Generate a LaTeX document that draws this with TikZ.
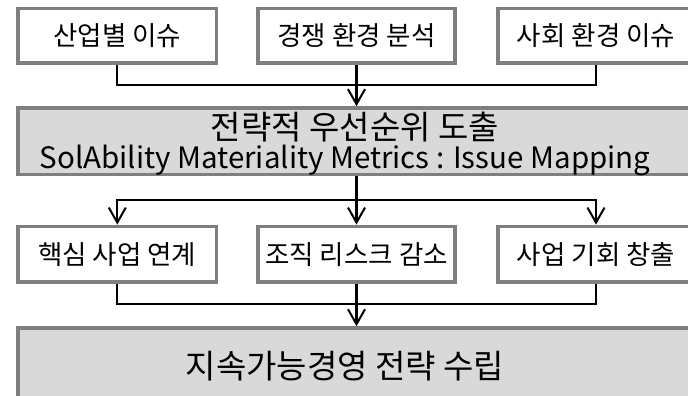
\documentclass[tikz,border=0pt]{standalone}
\usepackage{fontspec}
\setmainfont{Noto Sans CJK KR}
\usetikzlibrary{arrows.meta}
\definecolor{bordergray}{HTML}{7F7F7F}
\definecolor{boxfill}{HTML}{D9D9D9}
\begin{document}
\begin{tikzpicture}[x=1pt,y=-1pt,
  box/.style={draw=bordergray,line width=3.5pt,fill=white,rectangle,inner sep=0pt},
  wide/.style={draw=bordergray,line width=3.5pt,fill=boxfill,rectangle,inner sep=0pt},
  smalltxt/.style={font=\fontsize{26.5}{30}\selectfont},
  bigtxt/.style={inner sep=0pt},
  conn/.style={line width=2.3pt,black},
  arr/.style={conn,-{Straight Barb[length=15pt,width=17pt,line width=2pt]}}]
\useasboundingbox (0,0) rectangle (688,396);
\clip (0,0) rectangle (688,396);
% top boxes
\node[box,smalltxt,minimum width=198.5pt,minimum height=54.7pt] (t1) at (117.3,35.7) {산업별 이슈};
\node[box,smalltxt,minimum width=197pt,minimum height=54.7pt] (t2) at (356.5,35.7) {경쟁 환경 분석};
\node[box,smalltxt,minimum width=196pt,minimum height=54.7pt] (t3) at (596,35.7) {사회 환경 이슈};
% middle wide box
\node[wide,minimum width=682pt,minimum height=66.7pt] (m) at (359,141.3) {};
\node[bigtxt,font=\fontsize{33}{36}\selectfont,anchor=base,text height=25pt,text depth=1pt] (mk) at (355,139.5) {전략적 우선순위 도출};
\node[bigtxt,font=\fontsize{29.5}{32}\selectfont,anchor=base,text height=21pt,text depth=6pt] (ml) at (345,168) {SolAbility Materiality Metrics : Issue Mapping};
% lower boxes
\node[box,smalltxt,minimum width=198.5pt,minimum height=55.7pt] (b1) at (117.3,254.2) {핵심 사업 연계};
\node[box,smalltxt,minimum width=197pt,minimum height=55.7pt] (b2) at (356.5,254.2) {조직 리스크 감소};
\node[box,smalltxt,minimum width=196pt,minimum height=55.7pt] (b3) at (596,254.2) {사업 기회 창출};
% bottom wide box
\node[wide,minimum width=682pt,minimum height=82pt] (f) at (359,369) {};
\node[bigtxt,font=\fontsize{33}{36}\selectfont] (fk) at (345,366) {지속가능경영 전략 수립};
% junction coordinates
\coordinate (j1) at (356.5,85);
\coordinate (j2) at (356.5,200);
\coordinate (j3) at (356.5,304);
% connectors top -> middle
\draw[conn] (t1.south) |- (j1) -| (t3.south);
\draw[arr] (t2.south) -- (m.north -| t2.south);
% middle -> lower
\draw[conn] (m.south -| j2) -- (j2);
\draw[arr] (j2) -| (b1.north);
\draw[arr] (j2) -| (b3.north);
\draw[arr] (j2) -- (b2.north);
% lower -> bottom
\draw[conn] (b1.south) |- (j3) -| (b3.south);
\draw[arr] (b2.south) -- (f.north -| b2.south);
\end{tikzpicture}
\end{document}
